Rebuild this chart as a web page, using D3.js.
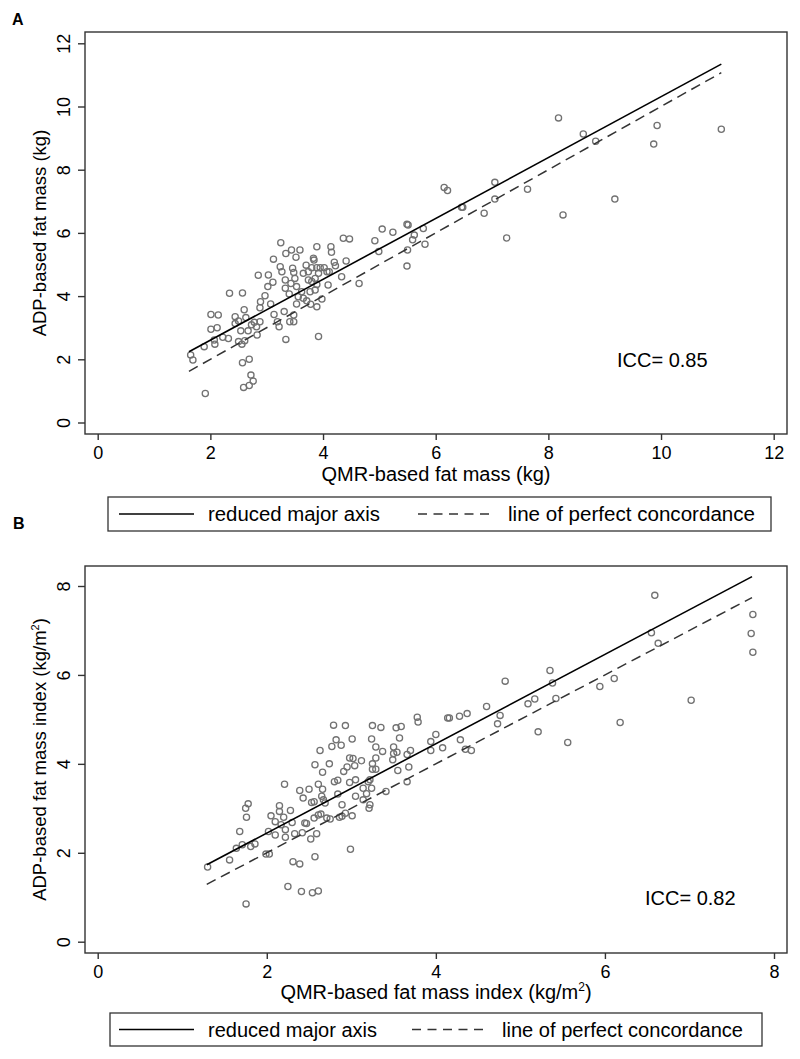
<!DOCTYPE html>
<html><head><meta charset="utf-8">
<script src="https://cdn.jsdelivr.net/npm/d3@7"></script>
<style>
body{margin:0;background:#fff;}
svg text{font-family:"Liberation Sans",Arial,Helvetica,sans-serif;fill:#000;}
</style></head>
<body><svg id="c" width="800" height="1059"></svg>
<script>
// ---------- DATA ----------
const xTicksA = [0,2,4,6,8,10,12];
const yTicksA = [0,2,4,6,8,10,12];
const xTicksB = [0,2,4,6,8];
const yTicksB = [0,2,4,6,8];
const iccA = "ICC= 0.85";
const iccB = "ICC= 0.82";
const legendLabels = ["reduced major axis","line of perfect concordance"];

// Panel A: [QMR fat mass, ADP fat mass] (kg)
const fatMassA = [
[1.65,2.14],[1.69,1.98],[1.89,2.40],[1.91,0.92],
[2.01,3.42],[2.14,3.40],[2.01,2.95],[2.12,3.00],[2.07,2.61],[2.08,2.48],[2.22,2.70],[2.32,2.66],
[2.34,4.09],[2.57,4.10],[2.44,3.35],[2.44,3.13],[2.50,3.21],[2.60,3.57],[2.63,3.32],[2.54,2.90],
[2.50,2.56],[2.56,2.48],[2.61,2.59],[2.57,1.89],[2.69,2.00],[2.72,1.50],[2.76,1.31],[2.69,1.17],[2.59,1.11],
[2.67,2.90],[2.73,3.09],[2.82,3.03],[2.83,2.77],[2.78,3.17],[2.88,3.19],[2.88,3.63],[2.97,4.01],[2.89,3.82],
[3.02,4.30],[2.85,4.66],[3.03,4.67],[3.11,4.44],[3.07,3.75],[3.13,3.42],[3.19,3.19],[3.22,3.03],
[3.12,5.17],[3.25,5.69],[3.24,4.93],[3.34,5.35],[3.44,5.46],[3.52,5.23],[3.59,5.46],
[3.27,4.77],[3.33,4.51],[3.33,4.25],[3.43,4.40],[3.46,4.88],[3.48,4.75],[3.50,4.56],[3.53,4.30],
[3.40,4.07],[3.31,3.51],[3.41,3.19],[3.48,3.19],[3.48,3.40],[3.34,2.63],[3.53,3.75],[3.56,3.98],
[3.62,4.14],[3.65,3.93],[3.71,3.85],[3.65,4.72],[3.70,4.98],[3.74,4.77],[3.80,4.90],[3.83,5.20],[3.84,5.14],
[3.89,5.56],[3.89,4.90],[3.92,4.72],[3.95,4.90],[4.02,4.90],[4.07,4.77],[4.11,4.77],[3.80,4.46],[3.86,4.56],
[3.89,4.37],[3.86,4.19],[3.77,4.14],[3.74,4.51],[3.89,3.66],[3.98,3.91],[3.92,2.72],[3.78,3.74],[4.09,4.35],
[4.14,5.56],[4.15,5.39],[4.20,5.07],[4.22,4.96],[4.33,4.61],[4.41,5.11],[4.36,5.83],[4.47,5.81],[4.64,4.40],
[4.92,5.75],[4.99,5.41],[5.05,6.12],[5.24,6.02],[5.49,6.27],[5.51,6.25],[5.62,5.93],[5.59,5.78],[5.81,5.64],
[5.50,5.46],[5.49,4.95],[5.78,6.14],
[6.15,7.44],[6.21,7.34],[6.46,6.81],[6.48,6.81],[6.86,6.62],[7.05,7.60],[7.05,7.07],[7.26,5.84],[7.63,7.38],
[8.18,9.64],[8.26,6.57],[8.62,9.13],[8.84,8.90],[9.18,7.07],[9.87,8.81],[9.93,9.40],[11.07,9.28]
];

// Panel B: [QMR fat mass index, ADP fat mass index] (kg/m2)
const fatMassIndexB = [
[1.30,1.68],[1.56,1.84],[1.755,0.85],[1.68,2.48],[1.64,2.10],[1.71,2.18],[1.81,2.14],[1.86,2.20],[1.76,2.80],[1.75,3.00],[1.78,3.10],
[1.99,1.97],[2.03,1.97],[2.02,2.48],[2.10,2.40],[2.05,2.83],[2.10,2.70],[2.15,3.06],[2.15,2.93],[2.20,2.80],[2.17,2.63],[2.22,2.52],[2.22,2.35],[2.21,3.54],[2.28,2.95],[2.30,2.68],[2.33,2.43],[2.31,1.80],[2.39,1.75],[2.25,1.24],[2.41,1.13],[2.54,1.10],[2.61,1.14],[2.57,1.91],[2.52,2.31],[2.59,2.43],[2.42,2.45],[2.45,2.67],[2.47,2.66],[2.39,3.40],[2.50,3.43],[2.43,3.23],[2.53,3.13],[2.56,3.15],[2.61,3.54],[2.66,3.43],[2.65,3.27],[2.67,3.19],[2.69,3.12],[2.56,2.78],[2.61,2.85],[2.64,2.87],[2.71,2.78],[2.75,2.76],[2.57,3.98],[2.66,3.81],[2.63,4.30],[2.74,4.00],[2.77,4.39],[2.82,4.54],[2.88,4.42],[2.79,4.87],[2.93,4.86],[3.01,4.56],[2.80,3.60],[2.84,3.63],[2.84,3.32],[2.89,3.08],[2.91,3.83],[2.95,3.93],[2.98,4.13],[3.02,4.12],[3.04,3.96],[2.98,3.58],[3.05,3.64],[2.86,2.80],[2.89,2.82],[2.93,2.89],[3.01,2.83],[2.99,2.08],[3.05,3.27],[3.12,4.07],[3.14,3.19],[3.14,3.45],[3.18,3.33],[3.20,3.60],[3.22,3.64],[3.24,4.56],[3.25,4.86],[3.35,4.82],[3.29,4.38],[3.37,4.28],[3.29,4.13],[3.25,4.00],[3.25,3.88],[3.29,3.88],[3.24,3.45],[3.22,3.08],[3.21,3.00],[3.41,3.38],[3.53,4.81],[3.59,4.84],[3.57,4.58],[3.50,4.38],[3.54,4.26],[3.50,4.23],[3.49,4.09],[3.70,4.30],[3.66,4.21],[3.55,3.85],[3.68,3.93],[3.66,3.60],[3.78,5.05],[3.79,4.94],[3.94,4.50],[4.00,4.66],[3.94,4.30],[4.08,4.36],[4.14,5.03],[4.16,5.03],[4.28,5.07],[4.37,5.13],[4.29,4.54],[4.35,4.33],[4.42,4.30],[4.60,5.29],[4.73,4.90],[4.76,5.09],[4.82,5.86],[5.09,5.35],[5.17,5.46],[5.21,4.72],[5.35,6.10],[5.38,5.82],[5.42,5.47],[5.56,4.48],[5.94,5.74],[6.11,5.92],[6.18,4.93],[6.55,6.95],[6.59,7.79],[6.63,6.71],[7.02,5.43],[7.75,7.36],[7.73,6.93],[7.75,6.51]
];

// fitted lines (endpoints)
const rmaLineA = [[1.62,2.24],[11.07,11.34]];
const concordLineA = [[1.62,1.62],[11.07,11.07]];
const rmaLineB = [[1.29,1.73],[7.74,8.21]];
const concordLineB = [[1.29,1.29],[7.74,7.74]];

// ---------- DRAW ----------
const svg = d3.select("#c");

function panel(cfg){
  const g = svg.append("g");
  const F = cfg.frame; // left, top, right, bottom
  const x = d3.scaleLinear().domain(cfg.xDom).range(cfg.xRange);
  const y = d3.scaleLinear().domain(cfg.yDom).range(cfg.yRange);

  g.append("rect").attr("x",F[0]).attr("y",F[1]).attr("width",F[2]-F[0]).attr("height",F[3]-F[1])
    .attr("fill","none").attr("stroke","#333").attr("stroke-width",1.4);

  const xa = g.append("g").attr("transform",`translate(0,${F[3]})`)
    .call(d3.axisBottom(x).tickValues(cfg.xTicks).tickSize(6).tickPadding(8).tickFormat(d3.format("d")));
  xa.select(".domain").remove();
  xa.selectAll("line").attr("stroke","#333").attr("stroke-width",1.4);
  xa.selectAll("text").attr("font-size",18).attr("font-family","Liberation Sans, Arial, sans-serif")
    .attr("y",25).attr("dy",0);

  const ya = g.append("g").attr("transform",`translate(${F[0]},0)`)
    .call(d3.axisLeft(y).tickValues(cfg.yTicks).tickSize(7).tickFormat(d3.format("d")));
  ya.select(".domain").remove();
  ya.selectAll("line").attr("stroke","#333").attr("stroke-width",1.4);
  ya.selectAll("text").attr("font-size",18).attr("font-family","Liberation Sans, Arial, sans-serif")
    .attr("transform","rotate(-90)").attr("x",0).attr("y",-15).attr("dy",0).attr("text-anchor","middle");

  g.append("g").selectAll("circle").data(cfg.points).join("circle")
    .attr("cx",d=>x(d[0])).attr("cy",d=>y(d[1])).attr("r",3.1)
    .attr("fill","none").attr("stroke","#727272").attr("stroke-width",1.3);

  const line = d3.line().x(d=>x(d[0])).y(d=>y(d[1]));
  g.append("path").attr("d",line(cfg.concord)).attr("fill","none").attr("stroke","#333")
    .attr("stroke-width",1.5).attr("stroke-dasharray","10,6");
  g.append("path").attr("d",line(cfg.rma)).attr("fill","none").attr("stroke","#000")
    .attr("stroke-width",1.6);

  g.append("text").attr("x",cfg.icc[0]).attr("y",cfg.icc[1]).attr("font-size",20).text(cfg.iccText);

  const xt = g.append("text").attr("x",(F[0]+F[2])/2).attr("y",F[3]+cfg.xTitleOff).attr("text-anchor","middle")
    .attr("font-size",20);
  cfg.xTitle.forEach(p=>{
    const t = xt.append("tspan").text(p.t);
    if(p.sup) t.attr("font-size",12).attr("dy",-8);
    else if(p.after) t.attr("dy",8);
  });
  const cy = (F[1]+F[3])/2;
  const yt = g.append("text").attr("transform",`translate(46,${cy}) rotate(-90)`).attr("text-anchor","middle")
    .attr("font-size",cfg.yTitleSize);
  cfg.yTitle.forEach(p=>{
    const t = yt.append("tspan").text(p.t);
    if(p.sup) t.attr("font-size",11).attr("dy",-7);
    else if(p.after) t.attr("dy",7);
  });

  g.append("text").attr("x",cfg.letter[0]).attr("y",cfg.letter[1]).attr("font-size",16)
    .attr("font-weight","bold").text(cfg.letterText);

  const L = cfg.legend;
  g.append("rect").attr("x",L.box[0]).attr("y",L.box[1]).attr("width",L.box[2]-L.box[0]).attr("height",L.box[3]-L.box[1])
    .attr("fill","#fff").attr("stroke","#333").attr("stroke-width",1.3);
  const ly = (L.box[1]+L.box[3])/2;
  g.append("line").attr("x1",L.solid[0]).attr("x2",L.solid[1]).attr("y1",ly).attr("y2",ly)
    .attr("stroke","#000").attr("stroke-width",1.6);
  g.append("line").attr("x1",L.dash[0]).attr("x2",L.dash[1]).attr("y1",ly).attr("y2",ly)
    .attr("stroke","#333").attr("stroke-width",1.4).attr("stroke-dasharray","9,6.5");
  g.append("text").attr("x",L.t1[0]).attr("y",ly+7).attr("font-size",20)
    .attr("textLength",L.t1[1]-L.t1[0]).attr("lengthAdjust","spacingAndGlyphs").text(legendLabels[0]);
  g.append("text").attr("x",L.t2[0]).attr("y",ly+7).attr("font-size",20)
    .attr("textLength",L.t2[1]-L.t2[0]).attr("lengthAdjust","spacingAndGlyphs").text(legendLabels[1]);
}

panel({
  frame:[85,32,787,434],
  xDom:[0,12], xRange:[97.7,773.7],
  yDom:[0,12], yRange:[422.5,43.3],
  xTicks:xTicksA, yTicks:yTicksA,
  points:fatMassA, rma:rmaLineA, concord:concordLineA,
  icc:[617,367], iccText:iccA,
  xTitle:[{t:"QMR-based fat mass (kg)"}], xTitleOff:47,
  yTitle:[{t:"ADP-based fat mass (kg)"}], yTitleSize:18.5,
  letter:[12,25], letterText:"A",
  legend:{box:[108,497,771,531], solid:[119,194], dash:[418,493], t1:[208,380], t2:[508,755]}
});

panel({
  frame:[85,566,787,953],
  xDom:[0,8], xRange:[97.7,774],
  yDom:[0,8], yRange:[941.7,586],
  xTicks:xTicksB, yTicks:yTicksB,
  points:fatMassIndexB, rma:rmaLineB, concord:concordLineB,
  icc:[645,905], iccText:iccB,
  xTitle:[{t:"QMR-based fat mass index (kg/m"},{t:"2",sup:true},{t:")",after:true}], xTitleOff:46,
  yTitle:[{t:"ADP-based fat mass index (kg/m"},{t:"2",sup:true},{t:")",after:true}], yTitleSize:18.5,
  letter:[13,529], letterText:"B",
  legend:{box:[110,1013,762,1046], solid:[119,194], dash:[412,488], t1:[208,377], t2:[502,743]}
});
</script></body></html>
